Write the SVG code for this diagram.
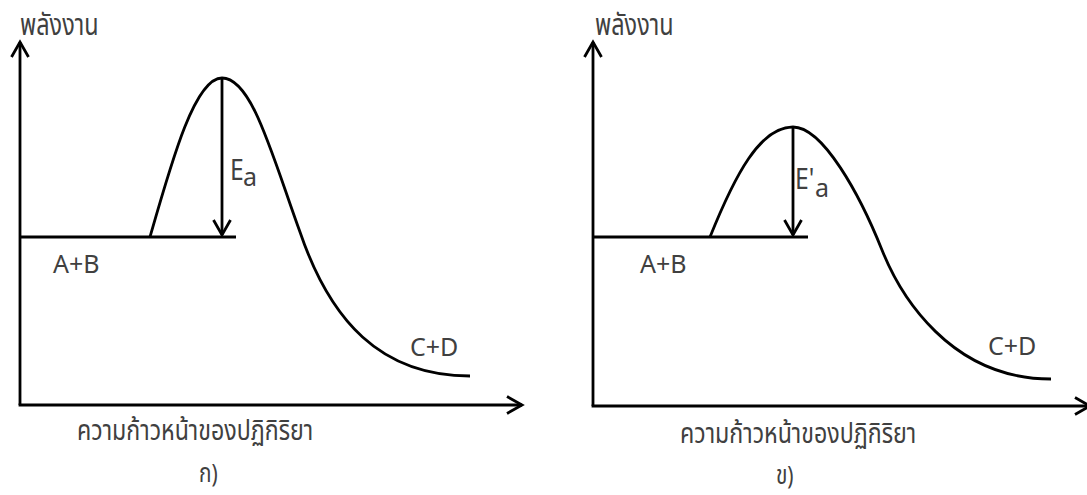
<svg xmlns="http://www.w3.org/2000/svg" width="1087" height="495" viewBox="0 0 1087 495">
<style>
.ln{fill:none;stroke:#000;stroke-width:2.8}
.cv{fill:none;stroke:#000;stroke-width:2.8}
.t{font-family:"Noto Sans","DejaVu Sans",sans-serif;font-size:25px;fill:#404040}
.e{font-family:"Noto Sans","DejaVu Sans",sans-serif;font-size:29px;fill:#404040}
.th{font-family:"Noto Sans Thai","Noto Sans","DejaVu Sans",sans-serif;font-size:30px;fill:#404040}
.thb{font-family:"Noto Sans Thai","Noto Sans","DejaVu Sans",sans-serif;font-size:29px;fill:#404040}
.lab{font-family:"Noto Sans Thai","Noto Sans","DejaVu Sans",sans-serif;font-size:26px;fill:#404040}
</style>
<defs>
<marker id="ah" viewBox="0 0 20 20" refX="17" refY="10" markerWidth="20" markerHeight="20" markerUnits="userSpaceOnUse" orient="auto">
<path d="M2,1.5 L17,10 L2,18.5" fill="none" stroke="#000" stroke-width="2.8"/>
</marker>
</defs>
<g id="connectors">
<line class="ln" x1="20" y1="405" x2="20" y2="42" marker-end="url(#ah)"/>
<line class="ln" x1="18.6" y1="405" x2="522" y2="405" marker-end="url(#ah)"/>
<line class="ln" x1="20" y1="237" x2="236" y2="237"/>
<path class="cv" d="M150,237 C172,160 195,78 222,78 C252,78 272,155 300,232 C330,320 380,376 470,376"/>
<line class="ln" x1="222" y1="78" x2="222" y2="235" marker-end="url(#ah)"/>
<line class="ln" x1="593" y1="406" x2="593" y2="42" marker-end="url(#ah)"/>
<line class="ln" x1="591.6" y1="406" x2="1090" y2="406" marker-end="url(#ah)"/>
<line class="ln" x1="593" y1="237" x2="808" y2="237"/>
<path class="cv" d="M710,237 C735,175 760,127 793,127 C823,127 860,195 882,250 C900,295 950,379 1051,379"/>
<line class="ln" x1="793" y1="127" x2="793" y2="235" marker-end="url(#ah)"/>
</g>
<g id="panel-a">
<text class="th" transform="translate(20,35) scale(0.78,1)">พลังงาน</text>
<text class="e" transform="translate(230,180) scale(0.85,1)">E</text>
<text class="t" x="243" y="186" font-size="18">a</text>
<text class="t" x="53" y="273">A+B</text>
<text class="t" x="410" y="356">C+D</text>
<text class="thb" transform="translate(77,440) scale(0.8,1)">ความก้าวหน้าของปฏิกิริยา</text>
<text class="lab" transform="translate(199,482) scale(0.8,1)">ก)</text>
</g>
<g id="panel-b">
<text class="th" transform="translate(595,35) scale(0.78,1)">พลังงาน</text>
<text class="e" transform="translate(795,189) scale(0.85,1)">E'</text>
<text class="t" x="815" y="197" font-size="18">a</text>
<text class="t" x="640" y="273">A+B</text>
<text class="t" x="988" y="355">C+D</text>
<text class="thb" transform="translate(680,443) scale(0.8,1)">ความก้าวหน้าของปฏิกิริยา</text>
<text class="lab" transform="translate(776,484) scale(0.8,1)">ข)</text>
</g>
</svg>
